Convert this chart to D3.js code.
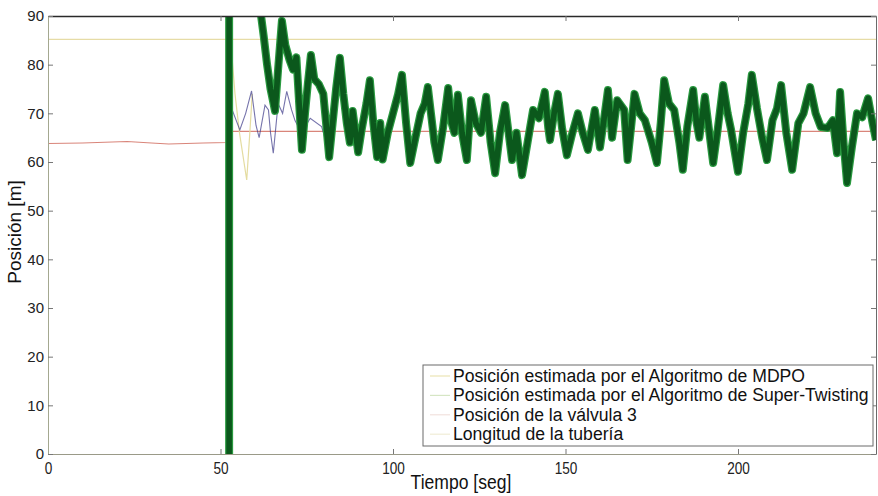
<!DOCTYPE html>
<html>
<head>
<meta charset="utf-8">
<script src="https://cdn.jsdelivr.net/npm/d3@7"></script>
<style>
  html, body { margin: 0; padding: 0; background: #fff; }
  svg { display: block; }
</style>
</head>
<body>
<svg id="chart" width="878" height="496"></svg>
<script>
// Tick values
const xTicks = [0, 50, 100, 150, 200];
const yTicks = [0, 10, 20, 30, 40, 50, 60, 70, 80, 90];

// Legend entries
const legendLabels = [
  "Posición estimada por el Algoritmo de MDPO",
  "Posición estimada por el Algoritmo de Super-Twisting",
  "Posición de la válvula 3",
  "Longitud de la tubería"
];

// Super-Twisting estimate [t (s), position (m)]
const superTwisting = [
  [52.5,-20],[52.5,160],[58,140],[60.5,110],[61.4,92],[62.5,86],[63.5,80],[64.5,75],[65.8,70.5],
  [66.8,80],[67.8,89],[68.8,84],[70,81],[71,79],[72,81.5],[72.8,72],[73.6,62.5],[74.5,70],[75.3,76],
  [76.2,82],[77.2,77],[78.5,76],[79.8,74],[80.6,68],[81.5,61],[82.5,68],[83.5,75],[84.6,81.4],[85.6,74],
  [86.6,68],[87.5,64],[88.3,70.5],[89.9,62],[91,67],[92.3,72],[93.3,76.8],[94.3,68],[95.4,61],[96.3,68],
  [97,60.5],[98.5,66],[100,70],[101.5,74],[102.6,77.9],[103.8,68],[105,59.8],[106.5,65],[108,70],[109.2,72],
  [110.1,75.4],[111,70],[112,64],[113,60.4],[114.5,67],[116,75.2],[117,68],[117.8,66],[118.8,73.8],[120,66],
  [121.4,60.4],[122.6,72.7],[124,68],[125.5,66],[127,73.4],[128.3,64],[129.6,57.7],[131,66],[132.5,71.7],
  [133.5,66],[134.5,60.4],[135.8,66],[137.4,57.3],[139,64],[140.6,70.7],[142.3,69],[144,74.4],[145,67],
  [145.5,64.5],[146.7,70],[147.8,74],[149,67],[150.4,61.4],[152,66],[153.6,70],[155,66],[156.5,62.5],
  [158.5,70.7],[160,63],[161.2,69],[162.3,74.8],[163.5,65],[165,72.7],[167,70.7],[168,60.4],[169,67],
  [170,74],[171.5,70],[173,68.6],[175,64],[176.5,59.8],[177.6,68],[178.6,76.8],[180,72],[181.5,70.7],
  [183,64],[184,58.4],[185.3,67.2],[187,74.8],[188,68],[188.8,65],[190.4,73.4],[191.7,66],[192.8,59.8],
  [194,66],[195.7,75.8],[197,70],[198,66.6],[200,58],[201.5,66],[203,72],[204,77.9],[205.5,71],[207,65],
  [208.4,60.4],[210,68.6],[211.3,71],[212.5,75.8],[214,66],[215.7,58.4],[217.5,68],[219,70],[220.9,75.4],
  [222.5,70],[224,67.2],[226,67],[227.5,68.6],[228.7,61.8],[229.6,74.4],[230.6,64],[231.6,55.7],[233,63],
  [234.5,70],[236,69.2],[237.7,73.1],[239,68],[240,64.5]
];

// MDPO estimate [t (s), position (m)]
const mdpo = [
  [53.5,70.5],[55.6,66.6],[57.3,70],[59,74.6],[60.3,67.5],[61.2,65],[62.9,71.7],[63.9,70.7],[64.5,66],
  [65.3,61.8],[66.7,72],[68,70],[69.2,74.5],[70.6,70.7],[71.6,68.5],[73.5,66],[76,69],[79.3,67.3],[81.5,62]
];

// MDPO start-up transient [t (s), position (m)]
const mdpoArranque = [
  [52.6,88],[54.2,74],[55.5,66],[57.6,56.3],[58.5,66],[59.2,74]
];

// Valve 3 position [t (s), position (m)]
const valvula = [
  [0,63.8],[10,63.9],[22.9,64.2],[30,63.9],[35,63.7],[45,63.9],[52,64],[53.5,66.3],[240,66.3]
];

// Pipe length [t (s), position (m)]
const longitud = [[0,85.2],[240,85.2]];

const svg = d3.select("#chart");
const margin = { left: 48, right: 2, top: 16, bottom: 42 };
const W = 878, H = 496;

const x = d3.scaleLinear().domain([0, 240]).range([margin.left, W - margin.right]);
const y = d3.scaleLinear().domain([0, 90]).range([H - margin.bottom, margin.top]);

svg.append("defs").append("clipPath").attr("id", "plotclip")
  .append("rect")
  .attr("x", x(0)).attr("y", y(90))
  .attr("width", x(240) - x(0)).attr("height", y(0) - y(90));

const line = d3.line().x(d => x(d[0])).y(d => y(d[1]));
const plot = svg.append("g").attr("clip-path", "url(#plotclip)");

// Pipe length and valve position
plot.append("path").datum(longitud).attr("d", line)
  .attr("fill", "none").attr("stroke", "#e6dca6").attr("stroke-width", 1.2);
plot.append("path").datum(valvula).attr("d", line)
  .attr("fill", "none").attr("stroke", "#d9857a").attr("stroke-width", 1.1);

// MDPO estimate
plot.append("path").datum(mdpoArranque).attr("d", line)
  .attr("fill", "none").attr("stroke", "#e4dca0").attr("stroke-width", 1.2);
plot.append("path").datum(mdpo).attr("d", line)
  .attr("fill", "none").attr("stroke", "#3a3888").attr("stroke-width", 1.1)
  .attr("stroke-opacity", 0.7);

// Super-Twisting estimate: light edge with dark core
plot.append("path").datum(superTwisting).attr("d", line)
  .attr("fill", "none").attr("stroke", "#2a9a40").attr("stroke-width", 8)
  .attr("stroke-linejoin", "round");
plot.append("path").datum(superTwisting).attr("d", line)
  .attr("fill", "none").attr("stroke", "#0b581c").attr("stroke-width", 5.6)
  .attr("stroke-linejoin", "round");

// Axes with inward ticks on all four sides
const gx = svg.append("g").attr("transform", `translate(0,${y(0)})`)
  .call(d3.axisBottom(x).tickValues(xTicks).tickSizeInner(-5).tickSizeOuter(0).tickPadding(9));
const gxTop = svg.append("g").attr("transform", `translate(0,${y(90)})`)
  .call(d3.axisTop(x).tickValues(xTicks).tickSizeInner(-5).tickSizeOuter(0).tickFormat(""));
const gy = svg.append("g").attr("transform", `translate(${x(0)},0)`)
  .call(d3.axisLeft(y).tickValues(yTicks).tickSizeInner(-5).tickSizeOuter(0).tickPadding(4));
const gyRight = svg.append("g").attr("transform", `translate(${x(240)},0)`)
  .call(d3.axisRight(y).tickValues(yTicks).tickSizeInner(-5).tickSizeOuter(0).tickFormat(""));

gx.select(".domain").attr("stroke", "#9a9a88");
gy.select(".domain").attr("stroke", "#a4a890");
gxTop.select(".domain").attr("stroke", "#2a2a2a").attr("stroke-width", 1.5);
gyRight.select(".domain").attr("stroke", "#6a6a6a");
svg.selectAll(".tick line").attr("stroke", "#777");

// Condensed tick labels along the time axis
gx.selectAll("text")
  .attr("font-family", "'Liberation Sans', Arial, sans-serif")
  .attr("font-size", 16).attr("fill", "#222")
  .attr("transform", "scale(0.85,1)");
gy.selectAll("text")
  .attr("font-family", "'Liberation Sans', Arial, sans-serif")
  .attr("font-size", 15).attr("fill", "#222");

// Axis titles
svg.append("text")
  .attr("transform", "translate(461,489) scale(0.9,1)")
  .attr("text-anchor", "middle")
  .attr("font-family", "'Liberation Sans', Arial, sans-serif")
  .attr("font-size", 19.5).attr("fill", "#111")
  .text("Tiempo [seg]");
svg.append("text")
  .attr("transform", `translate(21,232) rotate(-90)`)
  .attr("text-anchor", "middle")
  .attr("font-family", "'Liberation Sans', Arial, sans-serif")
  .attr("font-size", 19).attr("fill", "#111")
  .text("Posición [m]");

// Legend
const legendColors = ["#ebe4b4", "#d6e6c4", "#f2e2de", "#f0ecd6"];
const lg = svg.append("g").attr("transform", "translate(423,365)");
lg.append("rect").attr("x", 0).attr("y", 0).attr("width", 450).attr("height", 81)
  .attr("fill", "#fff").attr("stroke", "#6a6a6a").attr("stroke-width", 1);
legendLabels.forEach((label, i) => {
  const cy = 11 + i * 19.4;
  lg.append("line").attr("x1", 7).attr("x2", 27).attr("y1", cy).attr("y2", cy)
    .attr("stroke", legendColors[i]).attr("stroke-width", 1.2);
  lg.append("text").attr("x", 30).attr("y", cy + 6)
    .attr("font-family", "'Liberation Sans', Arial, sans-serif")
    .attr("font-size", 17.6).attr("fill", "#111")
    .text(label);
});
</script>
</body>
</html>
